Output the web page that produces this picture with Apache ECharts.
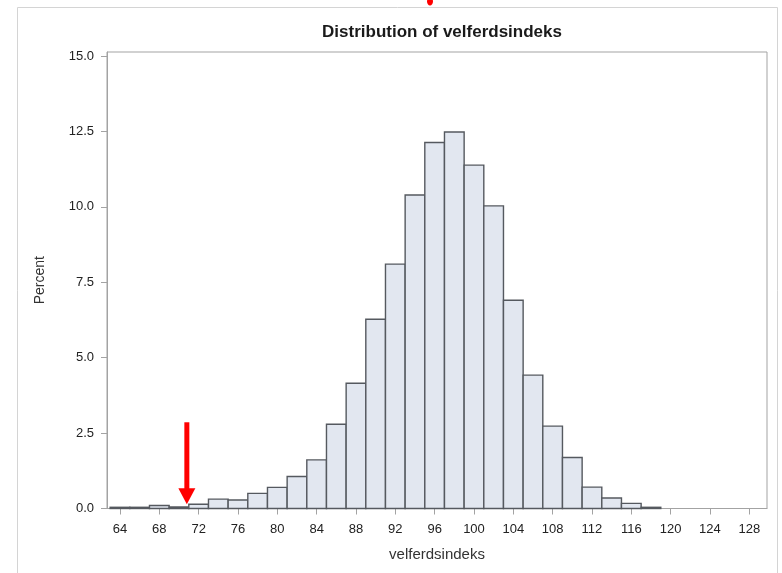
<!DOCTYPE html>
<html>
<head>
<meta charset="utf-8">
<script src="https://cdn.jsdelivr.net/npm/echarts@6/dist/echarts.min.js"></script>
<style>html,body{margin:0;padding:0;background:#fff}#c{width:782px;height:573px}</style>
</head>
<body>
<div id="c"></div>
<script>
// Histogram bins (midpoints, width 2) and percentages
const binMid = [64,66,68,70,72,74,76,78,80,82,84,86,88,90,92,94,96,98,100,102,104,106,108,110,112,114,116,118];
const percent = [0.04,0.04,0.10,0.05,0.14,0.31,0.28,0.50,0.70,1.06,1.61,2.79,4.15,6.27,8.10,10.39,12.13,12.48,11.38,10.03,6.90,4.42,2.73,1.69,0.71,0.35,0.17,0.04];
const binWidth = 2;
const xTicks = [64,68,72,76,80,84,88,92,96,100,104,108,112,116,120,124,128];
const yTicks = [0,2.5,5,7.5,10,12.5,15];
const titleText = 'Distribution of velferdsindeks';
const xName = 'velferdsindeks';
const yName = 'Percent';
const arrowAt = [70.8, 0.14];

const chart = echarts.init(document.getElementById('c'), null, {renderer:'canvas'});
const axisGrey = '#a3a3a3';
const font = '"Liberation Sans", Arial, sans-serif';
const baseGraphic = [
  {type:'rect', shape:{x:17.5, y:7.5, width:760, height:620}, style:{fill:null, stroke:'#d4d4d4', lineWidth:1}, silent:true},
  {type:'ellipse', shape:{cx:430, cy:1.5, rx:3, ry:4}, style:{fill:'#ff0000'}}
];
const option = {
  animation:false,
  backgroundColor:'#fff',
  title:{text:titleText, left:437, top:19, textAlign:'center',
    textStyle:{fontFamily:font, fontWeight:'bold', fontSize:17, color:'#1a1a1a'}},
  grid:{left:107, right:15, top:52, bottom:64.5, show:true, borderColor:axisGrey, borderWidth:1, containLabel:false},
  xAxis:{type:'value', min:62.68, max:129.8,
    name:xName, nameLocation:'middle', nameGap:39,
    nameTextStyle:{fontFamily:font, fontSize:15, color:'#333'},
    axisLine:{show:true, lineStyle:{color:axisGrey}},
    axisTick:{show:true, inside:false, length:6, customValues:xTicks, lineStyle:{color:axisGrey}},
    axisLabel:{customValues:xTicks, margin:14, fontFamily:font, fontSize:13, color:'#222'},
    splitLine:{show:false}},
  yAxis:{type:'value', min:0, max:15.13,
    name:yName, nameLocation:'middle', nameGap:60, nameRotate:90,
    nameTextStyle:{fontFamily:font, fontSize:14, color:'#333'},
    axisLine:{show:true, lineStyle:{color:axisGrey}},
    axisTick:{show:true, length:6, customValues:yTicks, lineStyle:{color:axisGrey}},
    axisLabel:{customValues:yTicks, margin:13, fontFamily:font, fontSize:13, color:'#222',
      formatter:v=>Number(v).toFixed(1)},
    splitLine:{show:false}},
  series:[{
    type:'custom',
    data:binMid.map((m,i)=>[m, percent[i]]),
    encode:{x:0, y:1},
    renderItem:function(params, api){
      const x = api.value(0), y = api.value(1);
      const p0 = api.coord([x - binWidth/2, 0]);
      const p1 = api.coord([x + binWidth/2, y]);
      return {type:'rect',
        shape:{x:p0[0], y:p1[1], width:p1[0]-p0[0], height:p0[1]-p1[1]},
        style:{fill:'#e2e7f0', stroke:'#55595f', lineWidth:1.4}};
    }
  }],
  graphic:baseGraphic
};
chart.setOption(option);
const tip = chart.convertToPixel({gridIndex:0}, arrowAt);
chart.setOption({graphic:baseGraphic.concat([
  {type:'rect', shape:{x:tip[0]-2.5, y:tip[1]-82, width:5, height:67}, style:{fill:'#ff0000'}},
  {type:'polygon', shape:{points:[[tip[0]-8.5, tip[1]-16],[tip[0]+8.5, tip[1]-16],[tip[0], tip[1]]]}, style:{fill:'#ff0000'}}
])});
</script>
</body>
</html>
